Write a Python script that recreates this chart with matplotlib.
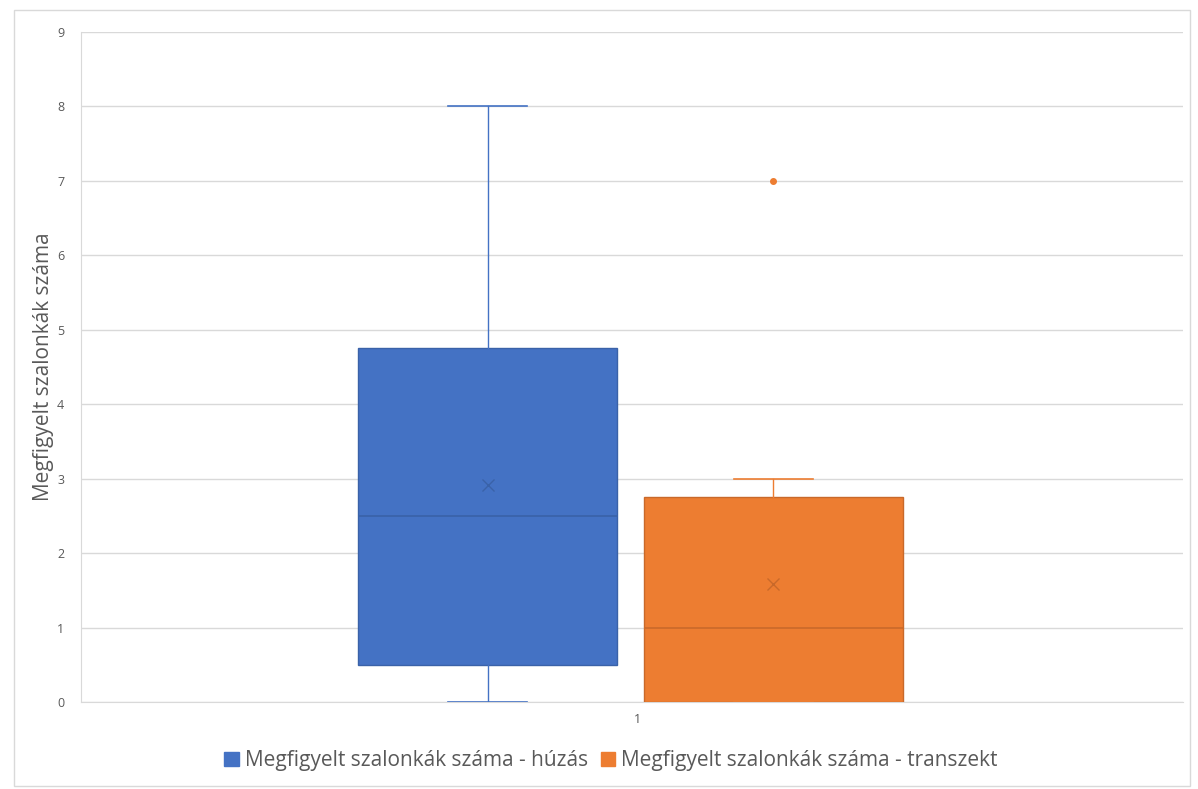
import matplotlib.pyplot as plt
from matplotlib.patches import Rectangle, Patch

plt.rcParams['font.family'] = ['Open Sans', 'DejaVu Sans']

# box plot statistics
series = ["Megfigyelt szalonkák száma - húzás", "Megfigyelt szalonkák száma - transzekt"]
whislo = [0, 0]
q1 = [0.5, 0]
med = [2.5, 1]
q3 = [4.75, 2.75]
whishi = [8, 3]
mean = [2.92, 1.58]
fliers = [[], [7]]
colors = ["#4472C4", "#ED7D31"]
dark = ["#3A62A8", "#C9692A"]
positions = [0.728, 1.246]
category = ["1"]

fig = plt.figure(figsize=(11.98, 7.89), dpi=100)
ax = fig.add_axes([0.0676, 0.1103, 0.92, 0.8491])

# chart frame
fig.patches.append(Rectangle((14/1198, 3/789), 1176/1198, 776/789, transform=fig.transFigure,
                             fill=False, edgecolor="#D9D9D9", linewidth=1))

for i in range(2):
    st = [dict(whislo=whislo[i], q1=q1[i], med=med[i], q3=q3[i], whishi=whishi[i],
               mean=mean[i], fliers=fliers[i], label=series[i])]
    ax.bxp(st, positions=[positions[i]], widths=0.47, capwidths=0.143, patch_artist=True,
           showmeans=True, manage_ticks=False,
           boxprops=dict(facecolor=colors[i], edgecolor=dark[i], linewidth=1),
           medianprops=dict(color=dark[i], linewidth=1.2),
           whiskerprops=dict(color=colors[i], linewidth=1),
           capprops=dict(color=colors[i], linewidth=1.2),
           meanprops=dict(marker="x", markeredgecolor=dark[i], markersize=8, markeredgewidth=1),
           flierprops=dict(marker="o", markerfacecolor=colors[i], markeredgecolor=colors[i], markersize=4),
           zorder=3)

ax.set_xlim(-0.01, 1.99)
ax.set_ylim(0, 9)
ax.set_yticks(range(10))
ax.set_xticks([1])
ax.set_xticklabels(category)
ax.tick_params(length=0, colors="#595959", labelsize=9, pad=12)
ax.tick_params(axis="x", pad=8)
ax.grid(axis="y", color="#D9D9D9", linewidth=1, zorder=0)
ax.set_axisbelow(True)
for s in ["top", "right"]:
    ax.spines[s].set_visible(False)
ax.spines["left"].set_color("#D9D9D9")
ax.spines["bottom"].set_color("#D9D9D9")
ax.set_ylabel("Megfigyelt szalonkák száma", fontsize=15, color="#595959", labelpad=2)

handles = [Patch(facecolor=colors[i], edgecolor=colors[i], label=series[i]) for i in range(2)]
fig.legend(handles=handles, loc="center", bbox_to_anchor=(0.51, 0.036), ncol=2, frameon=False,
           fontsize=15, labelcolor="#595959", handlelength=0.7, handleheight=0.7,
           handletextpad=0.3, columnspacing=0.6)

fig.savefig("out.png", dpi=100)
